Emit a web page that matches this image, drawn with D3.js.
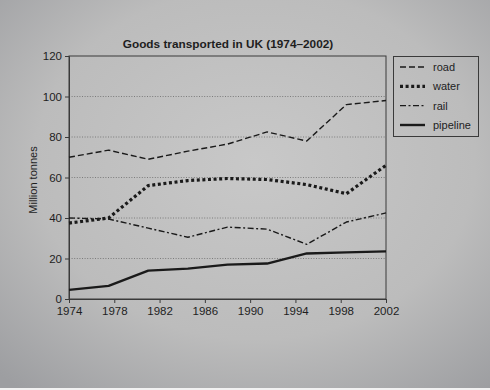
<!DOCTYPE html>
<html>
<head>
<meta charset="utf-8">
<script src="https://cdn.jsdelivr.net/npm/d3@7"></script>
<style>
  body { margin: 0; background: #bdbdbd; }
  svg { display: block; }
  text { font-family: "Liberation Sans", Arial, sans-serif; fill: #1e1e1e; }
</style>
</head>
<body>
<svg id="chart"></svg>
<script>
// data (million tonnes)
const years = [1974, 1977.5, 1981, 1984.5, 1988, 1991.5, 1995, 1998.5, 2002];
const road = [70, 73.5, 69, 73, 76.5, 82.5, 78, 96, 98];
const water = [37.5, 40, 56, 58.5, 59.5, 59, 56.5, 52, 66];
const rail = [40, 39.5, 35, 30.5, 35.5, 34.5, 27, 38, 42.5];
const pipeline = [4.5, 6.5, 14, 15, 17, 17.5, 22.5, 23, 23.5];

const seriesNames = ["road", "water", "rail", "pipeline"];
const xTicks = [1974, 1978, 1982, 1986, 1990, 1994, 1998, 2002];
const yTicks = [0, 20, 40, 60, 80, 100, 120];
const title = "Goods transported in UK (1974\u20132002)";
const yLabel = "Million tonnes";

const width = 490;
const height = 390;
const plot = {left: 69, right: 386, top: 56, bottom: 299};

const styles = {
  road:     {width: 1.4, dash: "6,3"},
  water:    {width: 3.2, dash: "3,2.6"},
  rail:     {width: 1.4, dash: "6,2.5,2,2.5"},
  pipeline: {width: 2.4, dash: null}
};

const svg = d3.select('#chart')
  .attr('width', width)
  .attr('height', height);

// photo-like background
const grad = svg.append('defs').append('radialGradient')
  .attr('id', 'bg')
  .attr('cx', '52%').attr('cy', '42%').attr('r', '75%');
grad.append('stop').attr('offset', '0%').attr('stop-color', '#c8c8c8');
grad.append('stop').attr('offset', '60%').attr('stop-color', '#bcbcbc');
grad.append('stop').attr('offset', '100%').attr('stop-color', '#9d9ea1');

svg.append('rect')
  .attr('width', width).attr('height', height)
  .attr('fill', 'url(#bg)');
svg.append('rect')
  .attr('y', height - 2).attr('width', width).attr('height', 2)
  .attr('fill', '#f2f2f2');

var x = d3.scaleLinear()
  .domain([1974, 2002])
  .range([plot.left, plot.right]);

var y = d3.scaleLinear()
  .domain([0, 120])
  .range([plot.bottom, plot.top]);

// gridlines
svg.append('g')
  .selectAll('line')
  .data(yTicks.filter(t => t > 0 && t < 120))
  .enter().append('line')
    .attr('x1', plot.left).attr('x2', plot.right)
    .attr('y1', d => y(d)).attr('y2', d => y(d))
    .attr('stroke', '#6a6a6a')
    .attr('stroke-width', 0.8)
    .attr('stroke-dasharray', '1,1.6');

// box around the plot
svg.append('rect')
  .attr('x', plot.left).attr('y', plot.top)
  .attr('width', plot.right - plot.left)
  .attr('height', plot.bottom - plot.top)
  .attr('fill', 'none')
  .attr('stroke', '#3a3a3a')
  .attr('stroke-width', 1);

// axes
var xAxis = svg.append('g')
  .attr('transform', `translate(0, ${plot.bottom})`)
  .call(d3.axisBottom(x).tickValues(xTicks).tickFormat(d3.format('d')).tickSize(4).tickPadding(4));

var yAxis = svg.append('g')
  .attr('transform', `translate(${plot.left}, 0)`)
  .call(d3.axisLeft(y).tickValues(yTicks).tickSize(4).tickPadding(3));

[xAxis, yAxis].forEach(a => {
  a.select('.domain').attr('stroke', '#3a3a3a');
  a.selectAll('.tick line').attr('stroke', '#3a3a3a');
  a.selectAll('.tick text')
    .attr('fill', '#1e1e1e')
    .style('font-size', '11.5px')
    .style('font-family', '"Liberation Sans", Arial, sans-serif');
});

// title and axis label
svg.append('text')
  .attr('x', 228).attr('y', 48)
  .attr('text-anchor', 'middle')
  .style('font-size', '11.8px')
  .style('font-weight', 'bold')
  .text(title);

svg.append('text')
  .attr('transform', 'translate(37, 180) rotate(-90)')
  .attr('text-anchor', 'middle')
  .style('font-size', '11px')
  .text(yLabel);

// lines
const seriesData = {road, water, rail, pipeline};

var line = d3.line()
  .x(d => x(d.year))
  .y(d => y(d.value));

seriesNames.forEach(name => {
  const pts = years.map((yr, i) => ({year: yr, value: seriesData[name][i]}));
  const s = styles[name];
  svg.append('path')
    .datum(pts)
    .attr('fill', 'none')
    .attr('stroke', '#1a1a1a')
    .attr('stroke-width', s.width)
    .attr('stroke-linejoin', 'round')
    .attr('stroke-dasharray', s.dash)
    .attr('d', line);
});

// legend
var legend = svg.append('g');
legend.append('rect')
  .attr('x', 393.5).attr('y', 56.5)
  .attr('width', 85).attr('height', 80)
  .attr('fill', 'none')
  .attr('stroke', '#3a3a3a');

var legendY = d3.scalePoint()
  .domain(seriesNames)
  .range([67, 125]);

var item = legend.selectAll('g.item')
  .data(seriesNames)
  .enter().append('g')
    .attr('class', 'item')
    .attr('transform', d => `translate(0, ${legendY(d)})`);

item.append('line')
  .attr('x1', 400).attr('x2', 425)
  .attr('stroke', '#1a1a1a')
  .attr('stroke-width', d => styles[d].width)
  .attr('stroke-dasharray', d => styles[d].dash);

item.append('text')
  .attr('x', 433).attr('y', 4)
  .style('font-size', '11px')
  .text(d => d);
</script>
</body>
</html>
